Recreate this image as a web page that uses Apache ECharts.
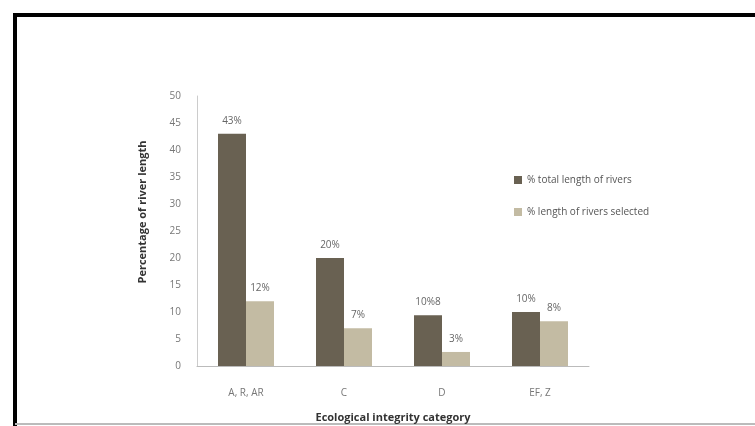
<!DOCTYPE html>
<html>
<head>
<meta charset="utf-8">
<script src="https://cdn.jsdelivr.net/npm/echarts@6/dist/echarts.min.js"></script>
<style>html,body{margin:0;padding:0;background:#fff}#c{width:755px;height:426px}</style>
</head>
<body>
<div id="c"></div>
<script>
var categories = ['A, R, AR', 'C', 'D', 'EF, Z'];
var seriesNames = ['% total length of rivers', '% length of rivers selected'];
var totalLength = [43, 20, 9.4, 10];
var selectedLength = [12, 7, 2.6, 8.3];
var totalLabels = ['43%', '20%', '10%8', '10%'];
var selectedLabels = ['12%', '7%', '3%', '8%'];
var yTicks = [0, 5, 10, 15, 20, 25, 30, 35, 40, 45, 50];
var yTitle = 'Percentage of river length';

var chart = echarts.init(document.getElementById('c'));
function lab(arr) {
  return {
    show: true, position: 'top', distance: 8,
    color: '#666', fontSize: 10, fontFamily: 'Open Sans',
    formatter: function (p) { return arr[p.dataIndex]; }
  };
}
chart.setOption({
  animation: false,
  backgroundColor: '#fff',
  textStyle: { fontFamily: 'Open Sans' },
  graphic: [
    { type: 'line', shape: { x1: 15, y1: 15, x2: 755, y2: 15 }, style: { stroke: '#000', lineWidth: 4 } },
    { type: 'line', shape: { x1: 15, y1: 13, x2: 15, y2: 426 }, style: { stroke: '#000', lineWidth: 4 } },
    { type: 'line', shape: { x1: 15, y1: 424, x2: 755, y2: 424 }, style: { stroke: '#bbb', lineWidth: 2 } },
    { type: 'text', x: 143, y: 212, rotation: Math.PI / 2,
      style: { text: yTitle, fill: '#333', font: 'bold 11px "Open Sans"', align: 'center', verticalAlign: 'middle' } }
  ],
  legend: {
    orient: 'vertical', left: 509, top: 170, itemGap: 22,
    itemWidth: 8, itemHeight: 8, icon: 'rect',
    textStyle: { color: '#555', fontSize: 10, fontFamily: 'Open Sans' },
    data: seriesNames
  },
  grid: { left: 197, right: 166, top: 96, bottom: 60, outerBoundsMode: 'none', containLabel: false },
  xAxis: {
    type: 'category', data: categories,
    name: 'Ecological integrity category', nameLocation: 'middle', nameGap: 46,
    nameTextStyle: { color: '#333', fontSize: 11, fontWeight: 'bold', fontFamily: 'Open Sans' },
    axisLine: { lineStyle: { color: '#bbb' } },
    axisTick: { show: false },
    axisLabel: { color: '#777', fontSize: 10, margin: 22 }
  },
  yAxis: {
    type: 'value', min: yTicks[0], max: yTicks[yTicks.length - 1], interval: 5,
    axisLine: { show: true, lineStyle: { color: '#ccc' } },
    axisTick: { show: false },
    splitLine: { show: false },
    axisLabel: { color: '#777', fontSize: 10, margin: 16 }
  },
  series: [
    { name: seriesNames[0], type: 'bar', data: totalLength, barWidth: 28, barGap: '0%',
      itemStyle: { color: '#696152' }, label: lab(totalLabels) },
    { name: seriesNames[1], type: 'bar', data: selectedLength, barWidth: 28,
      itemStyle: { color: '#c3bba3' }, label: lab(selectedLabels) }
  ]
});
</script>
</body>
</html>
